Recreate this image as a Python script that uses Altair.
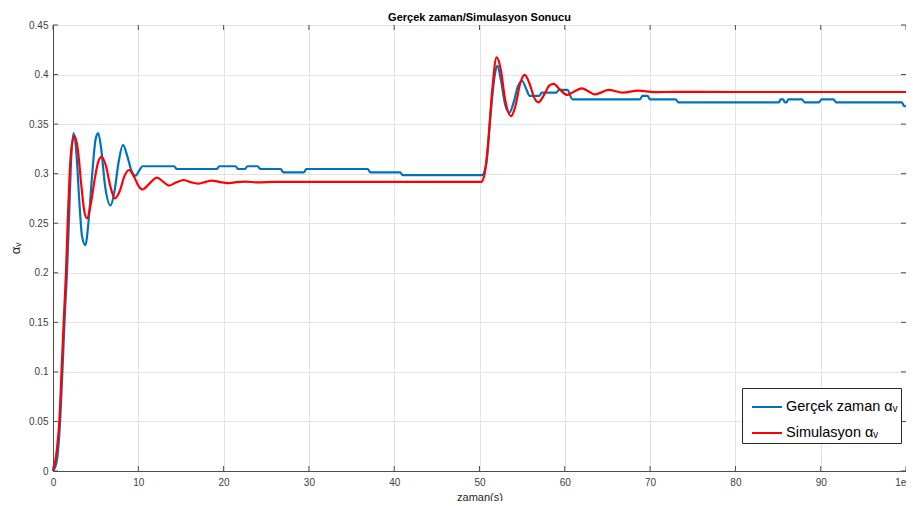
import altair as alt
import pandas as pd

# ---- data ----
blue_x = [0, 0.4, 0.8, 1.1, 1.4, 1.64, 1.9, 2.1, 2.42, 2.75, 3.1, 3.4, 3.79, 4.2, 4.6, 5.0, 5.3,
          5.65, 6.1, 6.75, 7.2, 7.7, 8.2, 8.7, 9.2, 9.7, 10.1, 10.5, 14.2, 14.5, 19.2, 19.5,
          21.4, 21.7, 22.5, 22.8, 24.0, 24.3, 26.7, 27.0, 29.4, 29.7, 36.9, 37.2, 40.7, 41.0,
          50.3, 50.8, 51.3, 51.8, 52.1, 52.5, 53.0, 53.5, 54.0, 54.5, 55.0, 55.5, 55.9, 57.0,
          57.3, 59.0, 59.3, 60.3, 60.9, 68.8, 69.1, 69.7, 70.0, 73.0, 73.3, 85.1, 85.3, 85.6,
          85.8, 86.0, 86.2, 87.8, 88.1, 89.8, 90.1, 91.5, 91.8, 99.5, 99.8, 100]
blue_y = [0, 0.008, 0.045, 0.1, 0.16, 0.2, 0.26, 0.31, 0.341, 0.32, 0.27, 0.237, 0.228, 0.255,
          0.3, 0.335, 0.341, 0.325, 0.288, 0.268, 0.282, 0.312, 0.329, 0.318, 0.303, 0.298,
          0.303, 0.3075, 0.3075, 0.3047, 0.3047, 0.3075, 0.3075, 0.3047, 0.3047, 0.3075, 0.3075,
          0.3047, 0.3047, 0.3013, 0.3013, 0.3047, 0.3047, 0.3013, 0.3013, 0.2985, 0.2985, 0.31,
          0.36, 0.40, 0.409, 0.395, 0.37, 0.3616, 0.372, 0.388, 0.3935, 0.385, 0.3784, 0.3784,
          0.3818, 0.3818, 0.3845, 0.3845, 0.375, 0.375, 0.3784, 0.3784, 0.375, 0.375, 0.372,
          0.372, 0.375, 0.375, 0.372, 0.372, 0.375, 0.375, 0.372, 0.372, 0.375, 0.375, 0.372,
          0.372, 0.368, 0.368]

red_x = [0, 0.35, 0.55, 0.74, 1.0, 1.25, 1.52, 1.72, 1.95, 2.2, 2.54, 2.9, 3.3, 3.65, 3.98, 4.4,
         4.9, 5.3, 5.7, 6.2, 6.7, 7.26, 7.8, 8.4, 8.9, 9.5, 10.0, 10.5, 11.3, 12.2, 12.9, 13.6,
         14.4, 15.3, 16.1, 17.0, 17.8, 18.6, 19.6, 20.5, 21.5, 22.5, 24, 26, 30, 40, 50.2, 50.6,
         51.0, 51.5, 52.0, 52.5, 53.0, 53.7, 54.2, 54.8, 55.3, 55.9, 56.4, 56.9, 57.6, 58.2,
         58.7, 59.4, 60.3, 61.1, 62.0, 62.8, 63.5, 64.3, 65.1, 66.8, 68.6, 70.5, 73, 80, 100]
red_y = [0, 0.0145, 0.03, 0.05, 0.1, 0.15, 0.2, 0.25, 0.3, 0.328, 0.338, 0.325, 0.29, 0.263,
         0.255, 0.268, 0.295, 0.312, 0.317, 0.308, 0.288, 0.275, 0.282, 0.298, 0.3037, 0.297,
         0.288, 0.284, 0.29, 0.296, 0.292, 0.288, 0.291, 0.2936, 0.2915, 0.290, 0.2915, 0.293,
         0.2915, 0.2905, 0.2915, 0.292, 0.2912, 0.2918, 0.2918, 0.2918, 0.2918, 0.30, 0.33,
         0.385, 0.4174, 0.405, 0.375, 0.358, 0.368, 0.392, 0.3996, 0.39, 0.377, 0.372, 0.38,
         0.389, 0.3905, 0.385, 0.3794, 0.383, 0.386, 0.383, 0.380, 0.382, 0.3845, 0.3818,
         0.3838, 0.3822, 0.3826, 0.3824, 0.3824]

series_names = ["Gerçek zaman αᵥ", "Simulasyon αᵥ"]
series_colors = ["#0072BD", "#FF0000"]

x_ticks = list(range(0, 101, 10))
y_ticks = [0, 0.05, 0.1, 0.15, 0.2, 0.25, 0.3, 0.35, 0.4, 0.45]

df = pd.concat([
    pd.DataFrame({"t": blue_x, "v": blue_y, "s": series_names[0], "o": 0}),
    pd.DataFrame({"t": red_x, "v": red_y, "s": series_names[1], "o": 1}),
])

W, H = 853, 446
FONT = "Liberation Sans"
AX = "#4d4d4d"

xs = alt.Scale(domain=[0, 100], nice=False)
ys = alt.Scale(domain=[0, 0.45], nice=False)

lines = alt.Chart(df).mark_line(interpolate="monotone", strokeWidth=2.2).encode(
    x=alt.X("t:Q", scale=xs, title="zaman(s)",
            axis=alt.Axis(values=x_ticks, grid=True, tickSize=0, labelPadding=6,
                          labelFlush=False, format="~g")),
    y=alt.Y("v:Q", scale=ys, title="αᵥ",
            axis=alt.Axis(values=y_ticks, grid=True, tickSize=0, labelPadding=5,
                          labelFlush=False, format="~g")),
    color=alt.Color("s:N", scale=alt.Scale(domain=series_names, range=series_colors),
                    legend=alt.Legend(title=None, orient="none", legendX=689, legendY=363,
                                      symbolType="stroke", symbolSize=900,
                                      symbolStrokeWidth=2, labelFontSize=14.5,
                                      labelFont=FONT, labelColor="#000000",
                                      fillColor="white", strokeColor="#262626",
                                      padding=3, rowPadding=3, symbolOffset=6,
                                      labelOffset=3, labelLimit=220)),
    order="o:Q",
)

xt = pd.DataFrame({"t": x_ticks})
yt = pd.DataFrame({"v": y_ticks})
tick_style = dict(color=AX, strokeWidth=1)
bottom_ticks = alt.Chart(xt).mark_rule(**tick_style).encode(
    x=alt.X("t:Q", scale=xs), y=alt.value(H), y2=alt.value(H - 5))
top_ticks = alt.Chart(xt).mark_rule(**tick_style).encode(
    x=alt.X("t:Q", scale=xs), y=alt.value(0), y2=alt.value(5))
left_ticks = alt.Chart(yt).mark_rule(**tick_style).encode(
    y=alt.Y("v:Q", scale=ys), x=alt.value(0), x2=alt.value(5))
right_ticks = alt.Chart(yt).mark_rule(**tick_style).encode(
    y=alt.Y("v:Q", scale=ys), x=alt.value(W), x2=alt.value(W - 5))

chart = alt.layer(lines, bottom_ticks, top_ticks, left_ticks, right_ticks).properties(
    width=W, height=H,
    autosize=alt.AutoSizeParams(type="none"),
    padding={"left": 45, "top": 17, "right": 0, "bottom": 30},
    title=alt.TitleParams("Gerçek zaman/Simulasyon Sonucu", font=FONT, fontSize=11,
                          fontWeight="bold", color="#000000", anchor="middle", offset=-3),
).configure_view(stroke=AX, strokeWidth=1).configure_axis(
    labelFont=FONT, labelFontSize=10, labelColor="#404040",
    titleFont=FONT, titleFontSize=11, titleColor="#262626", titleFontWeight="normal",
    domainColor=AX, gridColor="#e3e3e3", gridWidth=1,
).configure_axisX(titlePadding=4).configure_axisY(titlePadding=6, titleFontSize=13)

chart.save("out.html", embed_options={"renderer": "svg", "actions": False})
